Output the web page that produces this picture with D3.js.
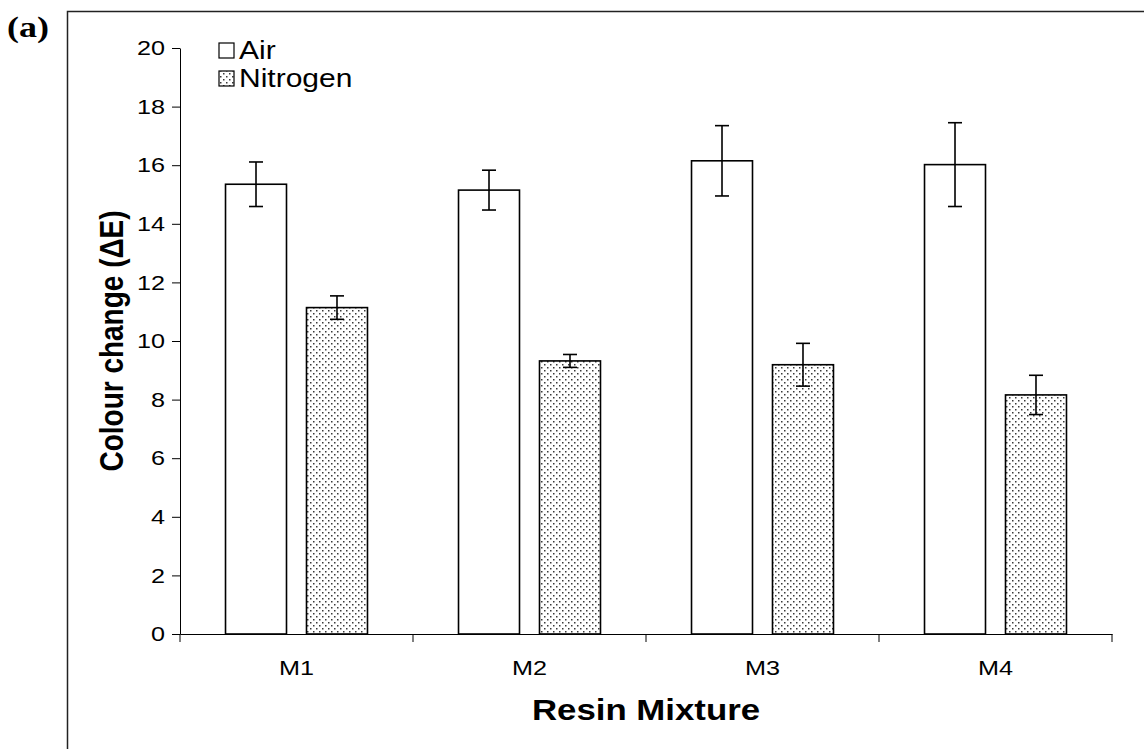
<!DOCTYPE html>
<html>
<head>
<meta charset="utf-8">
<script src="https://cdn.jsdelivr.net/npm/d3@7"></script>
<style>
  body { margin: 0; background: #fff; }
  svg { display: block; font-family: "Liberation Sans", Arial, sans-serif; }
</style>
</head>
<body>
<div id="graph"></div>
<script>
const categories = ["M1", "M2", "M3", "M4"];
const seriesNames = ["Air", "Nitrogen"];
const airValues = [15.35, 15.15, 16.15, 16.02];
const airErrors = [0.76, 0.68, 1.2, 1.43];
const nitrogenValues = [11.14, 9.32, 9.19, 8.16];
const nitrogenErrors = [0.4, 0.22, 0.73, 0.67];
const yTicks = [0, 2, 4, 6, 8, 10, 12, 14, 16, 18, 20];

const width = 1144, height = 749;
const margin = {top: 48, right: 32, bottom: 115, left: 180};
// the original picture is a little wider than tall, so text gets stretched sideways
const SX = 1.2;

const svg = d3.select("#graph")
  .append("svg")
    .attr("width", width)
    .attr("height", height);

function stretch(sel) {
  sel.each(function() {
    const t = d3.select(this);
    const x = +t.attr("x") || 0, y = +t.attr("y") || 0;
    t.attr("x", 0).attr("y", 0)
      .attr("transform", `translate(${x},${y}) scale(${SX},1)`);
  });
}

// dotted fill used for the nitrogen bars
const defs = svg.append("defs");
const pat = defs.append("pattern")
    .attr("id", "dots")
    .attr("patternUnits", "userSpaceOnUse")
    .attr("width", 6)
    .attr("height", 6);
pat.append("rect").attr("width", 6).attr("height", 6).attr("fill", "#fff");
pat.append("rect").attr("x", 1).attr("y", 1).attr("width", 1.5).attr("height", 1.5).attr("fill", "#3a3a3a");
pat.append("rect").attr("x", 4).attr("y", 4).attr("width", 1.5).attr("height", 1.5).attr("fill", "#3a3a3a");

// outer frame (only top and left edges visible in the picture)
svg.append("path")
  .attr("d", `M67.5,${height}V11.5H${width}`)
  .attr("fill", "none")
  .attr("stroke", "#222")
  .attr("stroke-width", 1.5);

svg.append("text")
  .attr("x", 7)
  .attr("y", 37)
  .attr("font-family", "'Liberation Serif', 'Times New Roman', serif")
  .attr("font-weight", "bold")
  .attr("font-size", 30)
  .text("(a)")
  .call(stretch);

const x0 = d3.scaleBand()
  .domain(categories)
  .range([margin.left, width - margin.right])
  .paddingInner(0)
  .paddingOuter(0);

const x1 = d3.scaleBand()
  .domain(seriesNames)
  .range([0, x0.bandwidth()])
  .paddingInner(0.247)
  .paddingOuter(0.562);

const y = d3.scaleLinear()
  .domain([0, 20])
  .range([height - margin.bottom, margin.top]);

const series = [
  {name: "Air", values: airValues, errors: airErrors, fill: "#fff"},
  {name: "Nitrogen", values: nitrogenValues, errors: nitrogenErrors, fill: "url(#dots)"}
];

// bars
series.forEach(function(s) {
  svg.append("g")
    .selectAll("rect")
    .data(categories)
    .join("rect")
      .attr("x", function(c) { return x0(c) + x1(s.name); })
      .attr("y", function(c, i) { return y(s.values[i]); })
      .attr("width", x1.bandwidth())
      .attr("height", function(c, i) { return y(0) - y(s.values[i]); })
      .attr("fill", s.fill)
      .attr("stroke", "#000")
      .attr("stroke-width", 1.6);
});

// error bars
series.forEach(function(s) {
  const g = svg.append("g")
    .attr("stroke", "#000")
    .attr("stroke-width", 1.6);
  categories.forEach(function(c, i) {
    const cx = x0(c) + x1(s.name) + x1.bandwidth() / 2;
    const hi = y(s.values[i] + s.errors[i]);
    const lo = y(s.values[i] - s.errors[i]);
    g.append("line").attr("x1", cx).attr("x2", cx).attr("y1", hi).attr("y2", lo);
    g.append("line").attr("x1", cx - 7).attr("x2", cx + 7).attr("y1", hi).attr("y2", hi);
    g.append("line").attr("x1", cx - 7).attr("x2", cx + 7).attr("y1", lo).attr("y2", lo);
  });
});

// y axis
const yAxis = svg.append("g")
  .attr("transform", `translate(${margin.left},0)`)
  .call(d3.axisLeft(y).tickValues(yTicks).tickSize(8).tickPadding(7).tickSizeOuter(0));
yAxis.select(".domain").attr("stroke", "#000").attr("stroke-width", 1);
yAxis.selectAll(".tick line").attr("stroke", "#000");
yAxis.selectAll(".tick text")
  .attr("font-size", 21)
  .attr("font-family", "'Liberation Sans', Arial, sans-serif")
  .attr("fill", "#000")
  .call(stretch);

// x axis: ticks at category boundaries, labels centred
const xAxis = svg.append("g")
  .attr("transform", `translate(0,${y(0)})`)
  .call(d3.axisBottom(x0).tickSize(0).tickPadding(26).tickSizeOuter(0));
xAxis.select(".domain").attr("stroke", "#000").attr("stroke-width", 1);
xAxis.selectAll(".tick text")
  .attr("font-size", 21)
  .attr("font-family", "'Liberation Sans', Arial, sans-serif")
  .attr("fill", "#000")
  .call(stretch);
const bounds = categories.map(function(c) { return x0(c); }).concat([x0.range()[1]]);
svg.append("g")
  .selectAll("line")
  .data(bounds)
  .join("line")
    .attr("x1", function(d) { return d; })
    .attr("x2", function(d) { return d; })
    .attr("y1", y(0))
    .attr("y2", y(0) + 8)
    .attr("stroke", "#000");

// axis titles
svg.append("text")
  .attr("x", (margin.left + width - margin.right) / 2)
  .attr("y", 720)
  .attr("text-anchor", "middle")
  .attr("font-weight", "bold")
  .attr("font-size", 29)
  .text("Resin Mixture")
  .call(stretch);

svg.append("text")
  .attr("transform", `translate(123,${(y(0) + y(20)) / 2}) scale(${SX},1) rotate(-90)`)
  .attr("text-anchor", "middle")
  .attr("font-weight", "bold")
  .attr("font-size", 28)
  .text("Colour change (ΔE)");

// legend
const legend = svg.append("g");
series.forEach(function(s, i) {
  const ly = 50 + i * 28;
  legend.append("rect")
    .attr("x", 219)
    .attr("y", ly - 7)
    .attr("width", 15)
    .attr("height", 15)
    .attr("fill", s.fill)
    .attr("stroke", "#000")
    .attr("stroke-width", 1.2);
  legend.append("text")
    .attr("x", 239)
    .attr("y", ly + 9)
    .attr("font-size", 25)
    .text(s.name)
    .call(stretch);
});
</script>
</body>
</html>
